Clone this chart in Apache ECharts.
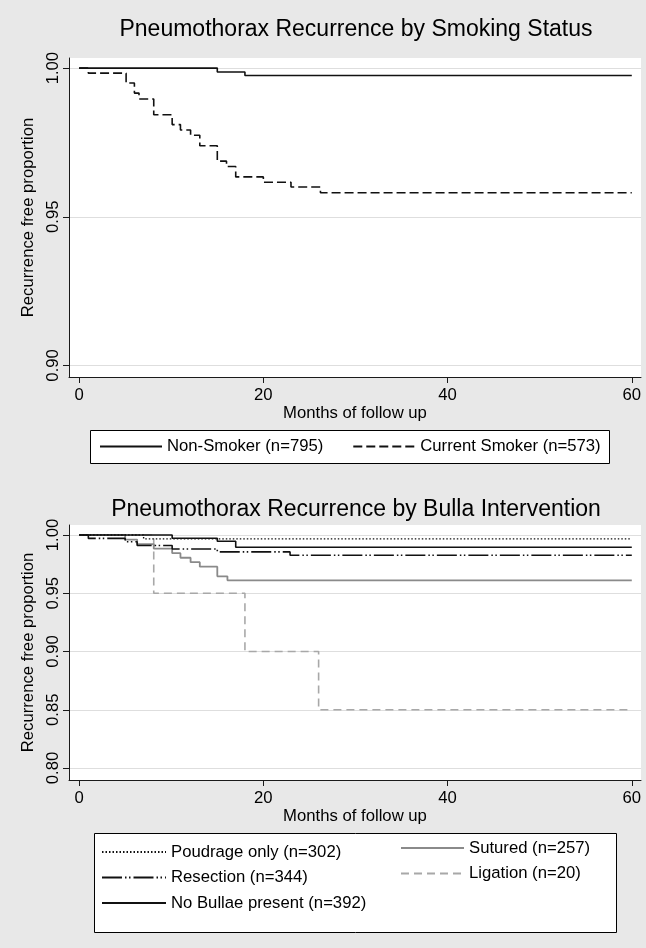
<!DOCTYPE html>
<html>
<head>
<meta charset="utf-8">
<script src="https://cdn.jsdelivr.net/npm/echarts@6/dist/echarts.min.js"></script>
<style>
html,body{margin:0;padding:0;background:#e8e8e8;}
#c{width:646px;height:948px;}
</style>
</head>
<body>
<div id="c"></div>
<script>
const FONT = '"Liberation Sans", Arial, Helvetica, sans-serif';

// ---- tick labels ----
const xTicks = [0, 20, 40, 60];
const yTicksTop = [0.90, 0.95, 1.00];
const yTicksBottom = [0.80, 0.85, 0.90, 0.95, 1.00];

// ---- texts ----
const titleTop = 'Pneumothorax Recurrence by Smoking Status';
const titleBottom = 'Pneumothorax Recurrence by Bulla Intervention';
const xName = 'Months of follow up';
const yName = 'Recurrence free proportion';
const topNames = ['Non-Smoker (n=795)', 'Current Smoker (n=573)'];
const bottomNames = ['Poudrage only (n=302)', 'Resection (n=344)', 'No Bullae present (n=392)', 'Sutured (n=257)', 'Ligation (n=20)'];

// ---- top panel: smoking status ----
const nonSmokerMonths = [0, 15, 18, 60];
const nonSmokerSurv   = [1.0, 0.9987, 0.9975, 0.9975];
const smokerMonths = [0, 1, 5.1, 6.0, 6.5, 8.1, 10.1, 11, 12.1, 13.1, 15, 16, 17, 20, 23, 26.2, 60];
const smokerSurv   = [1.0, 0.9983, 0.9950, 0.9916, 0.9896, 0.9843, 0.9810, 0.9792, 0.9774, 0.9739, 0.9687, 0.9669, 0.9634, 0.9616, 0.9600, 0.9581, 0.9581];

// ---- bottom panel: bulla intervention ----
const poudrageMonths = [0, 7, 60];
const poudrageSurv   = [1.0, 0.9967, 0.9967];
const resectionMonths = [0, 1, 5, 6.3, 10.1, 15, 22.9, 60];
const resectionSurv   = [1.0, 0.9971, 0.9942, 0.9910, 0.9880, 0.9855, 0.9826, 0.9826];
const noBullaeMonths = [0, 10.1, 15, 17, 60];
const noBullaeSurv   = [1.0, 0.9972, 0.9947, 0.9895, 0.9895];
const suturedMonths = [0, 5, 6.3, 8.1, 10.1, 11, 12.1, 13.1, 15, 16.1, 60];
const suturedSurv   = [1.0, 0.9961, 0.9922, 0.9883, 0.9844, 0.9805, 0.9767, 0.9728, 0.9645, 0.9611, 0.9611];
const ligationMonths = [0, 8.1, 18, 26, 60];
const ligationSurv   = [1.0, 0.95, 0.90, 0.85, 0.85];

function pairs(m, s) { return m.map((t, i) => [t, s[i]]); }

const txt = { fontFamily: FONT, fontSize: 16.7, color: '#000' };
const AX = '#1a1a1a';

function xAxisCfg(gi) {
  return {
    type: 'value', gridIndex: gi, min: -1.1, max: 61,
    name: xName, nameLocation: 'middle', nameGap: 27, nameTextStyle: txt,
    axisLine: { show: true, onZero: false, lineStyle: { color: AX, width: 1 } },
    axisTick: { show: true, length: 6, customValues: xTicks, lineStyle: { color: AX, width: 1 } },
    axisLabel: Object.assign({ customValues: xTicks, margin: 10, formatter: v => String(v) }, txt),
    splitLine: { show: false }
  };
}
function yAxisCfg(gi, min, max, ticks) {
  return {
    type: 'value', gridIndex: gi, min: min, max: max,
    name: yName, nameLocation: 'middle', nameGap: 27, nameRotate: 90, nameTextStyle: txt,
    axisLine: { show: true, onZero: false, lineStyle: { color: AX, width: 1 } },
    axisTick: { show: true, length: 6, customValues: ticks, lineStyle: { color: AX, width: 1 } },
    axisLabel: Object.assign({ customValues: ticks, rotate: 90, margin: 7.5, formatter: v => v.toFixed(2) }, txt),
    splitLine: { show: true, lineStyle: { color: '#dedede', width: 1 } }
  };
}
function km(name, gi, data, color, width, type) {
  return {
    type: 'line', name: name, xAxisIndex: gi, yAxisIndex: gi, data: data,
    step: 'end', symbol: 'none', showSymbol: false, color: color,
    lineStyle: { color: color, width: width, type: type },
    emphasis: { disabled: true }, silent: true
  };
}
const legendBase = {
  padding: 0, selectedMode: false, textStyle: txt, itemHeight: 17,
  itemStyle: { opacity: 0, borderWidth: 0 }
};
const titleStyle = { fontFamily: FONT, fontSize: 23, fontWeight: 'normal', color: '#000' };

const option = {
  animation: false,
  backgroundColor: '#e8e8e8',
  title: [
    { text: titleTop, left: 356, top: 18.5, textAlign: 'center', padding: 0, textStyle: titleStyle },
    { text: titleBottom, left: 356, top: 498, textAlign: 'center', padding: 0, textStyle: titleStyle }
  ],
  grid: [
    { left: 69, width: 572, top: 58, height: 319, show: true, backgroundColor: '#ffffff', borderWidth: 0 },
    { left: 69, width: 572, top: 525, height: 255, show: true, backgroundColor: '#ffffff', borderWidth: 0 }
  ],
  xAxis: [xAxisCfg(0), xAxisCfg(1)],
  yAxis: [yAxisCfg(0, 0.8961, 1.0034, yTicksTop), yAxisCfg(1, 0.7897, 1.0086, yTicksBottom)],
  graphic: [
    { type: 'rect', shape: { x: 90.5, y: 430.5, width: 519, height: 33 },
      style: { fill: '#ffffff', stroke: '#000', lineWidth: 1 }, silent: true },
    { type: 'rect', shape: { x: 94.5, y: 833.5, width: 522, height: 99 },
      style: { fill: '#ffffff', stroke: '#000', lineWidth: 1 }, silent: true }
  ],
  legend: [
    Object.assign({ data: topNames, left: 99, top: 438, itemWidth: 62, itemGap: 29 }, legendBase),
    Object.assign({ data: bottomNames.slice(0, 3), orient: 'vertical', left: 101, top: 843.5, itemWidth: 64, itemGap: 8.5 }, legendBase),
    Object.assign({ data: bottomNames.slice(3), orient: 'vertical', left: 400, top: 839.5, itemWidth: 63, itemGap: 8.5 }, legendBase)
  ],
  series: [
    km(topNames[0], 0, pairs(nonSmokerMonths, nonSmokerSurv), '#111111', 1.6, 'solid'),
    km(topNames[1], 0, pairs(smokerMonths, smokerSurv), '#111111', 1.6, [9, 4]),
    km(bottomNames[4], 1, pairs(ligationMonths, ligationSurv), '#a8a8a8', 1.6, [8, 5]),
    km(bottomNames[3], 1, pairs(suturedMonths, suturedSurv), '#8a8a8a', 1.8, 'solid'),
    km(bottomNames[0], 1, pairs(poudrageMonths, poudrageSurv), '#111111', 1.4, [1.5, 2]),
    km(bottomNames[1], 1, pairs(resectionMonths, resectionSurv), '#111111', 1.6, [20, 3, 1.5, 2.5, 1.5, 3]),
    km(bottomNames[2], 1, pairs(noBullaeMonths, noBullaeSurv), '#111111', 1.6, 'solid')
  ]
};

const chart = echarts.init(document.getElementById('c'), null, { renderer: 'canvas' });
chart.setOption(option);
</script>
</body>
</html>
